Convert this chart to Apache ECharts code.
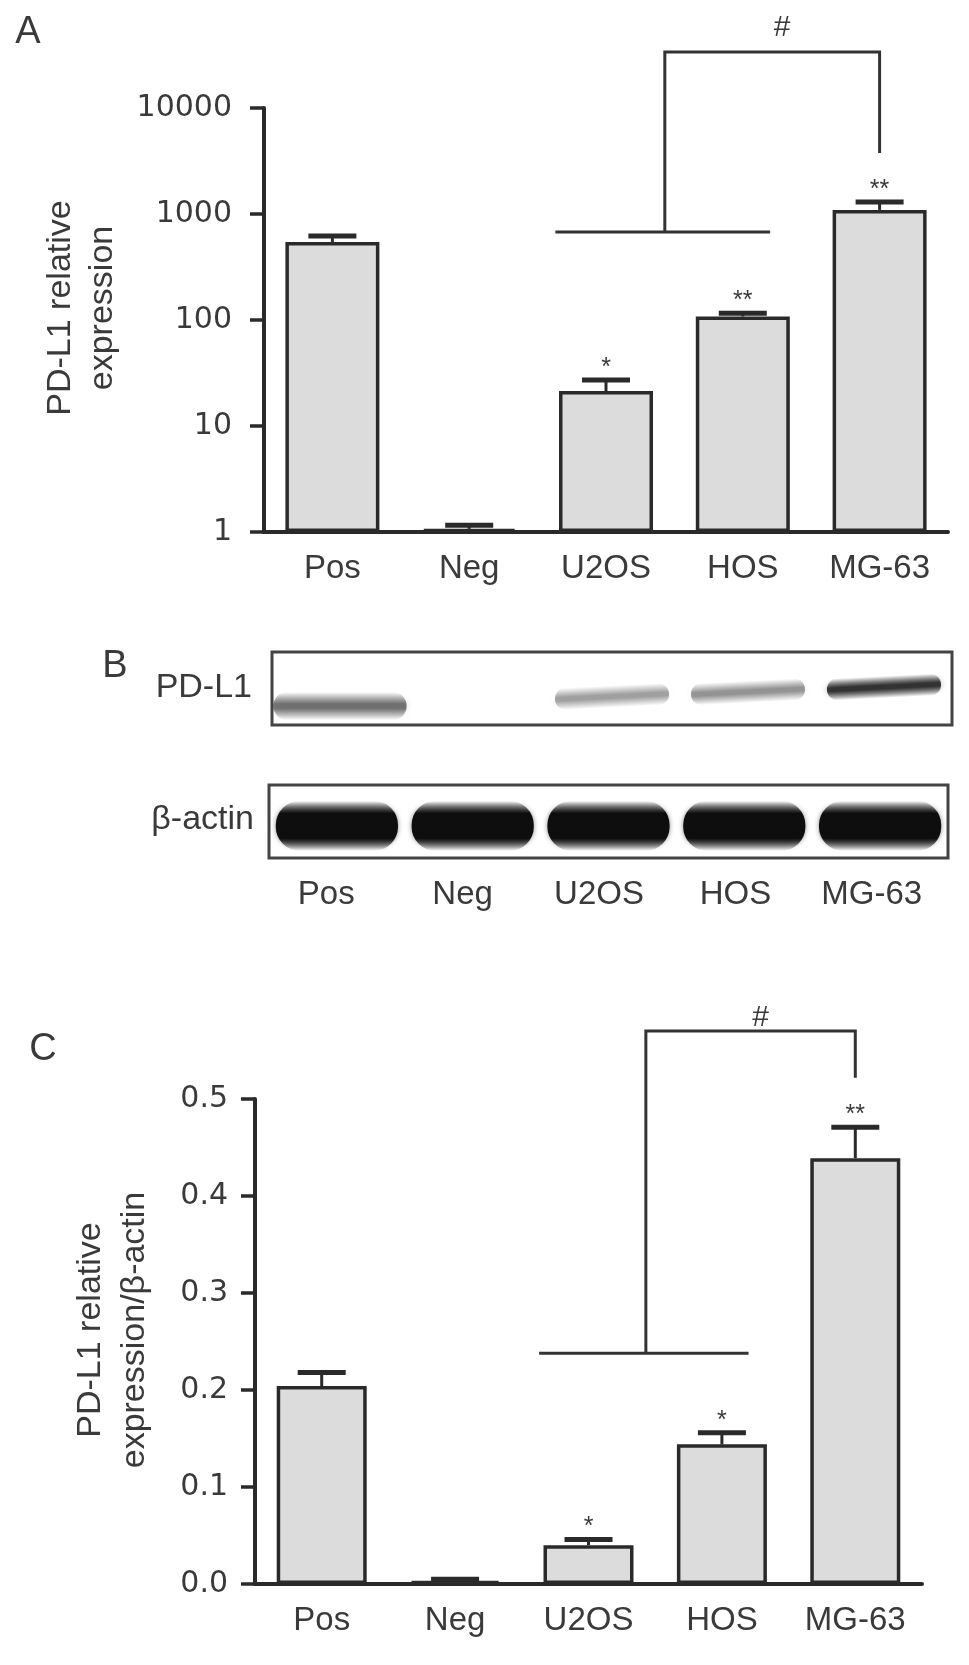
<!DOCTYPE html>
<html>
<head>
<meta charset="utf-8">
<style>
  html, body { margin: 0; padding: 0; background: #fff; }
  #chart { width: 969px; height: 1665px; }
</style>
<script src="https://cdn.jsdelivr.net/npm/echarts@6/dist/echarts.min.js"></script>
</head>
<body>
<div id="chart"></div>
<script>
const categories = ['Pos', 'Neg', 'U2OS', 'HOS', 'MG-63']

// A - PD-L1 relative expression (log scale)
const qpcrMean = [545, 1.07, 21.4, 108, 1093]
const qpcrSem = [75, 0.09, 5.8, 8, 204]
const qpcrStars = ['', '', '*', '**', '**']
const qpcrTicks = [1, 10, 100, 1000, 10000]
const qpcrBracket = [676, 33700, 3760] // lower bar, top bar, end of right drop

// B - western blot band intensity (0..1)
const pdl1Band = [0.6, 0, 0.4, 0.45, 0.9]
const actinBand = [1, 1, 1, 1, 1]

// C - PD-L1 / beta-actin
const wbMean = [0.204, 0.003, 0.04, 0.144, 0.439]
const wbSem = [0.014, 0.002, 0.006, 0.012, 0.032]
const wbStars = ['', '', '*', '*', '**']
const wbTicks = [0, 0.1, 0.2, 0.3, 0.4, 0.5]
const wbBracket = [0.238, 0.57, 0.522]

// groups compared by the # bracket
const cmpGroup = [2, 3]
const cmpTarget = 4

const FONT = '"Liberation Sans", Arial, sans-serif'
const NUM_FONT = '"DejaVu Sans", sans-serif'
const INK = '#2a2a2a'
const TXT = '#3a3a3a'

const chart = echarts.init(document.getElementById('chart'))

function errorItem(stars) {
  return (params, api) => {
    const i = api.value(0)
    const p0 = api.coord([i, api.value(1)])
    const p1 = api.coord([i, api.value(2)])
    const half = 24
    const children = [
      { type: 'line', shape: { x1: p0[0], y1: p0[1], x2: p1[0], y2: p1[1] }, style: { stroke: INK, lineWidth: 3 } },
      { type: 'line', shape: { x1: p1[0] - half, y1: p1[1], x2: p1[0] + half, y2: p1[1] }, style: { stroke: INK, lineWidth: 5 } },
    ]
    const s = stars[params.dataIndex]
    if (s) {
      children.push({
        type: 'text',
        style: {
          text: s, x: p1[0], y: p1[1] - 12, fill: TXT, fontSize: 25, fontFamily: FONT,
          align: 'center', verticalAlign: 'middle', textAlign: 'center', textVerticalAlign: 'middle',
        },
      })
    }
    return { type: 'group', children }
  }
}

function bracketItem(levels, hashGap) {
  return (params, api) => {
    const c0 = api.coord([0, levels[0]])
    const bw = api.coord([1, levels[0]])[0] - c0[0]
    const px = f => c0[0] + f * bw
    const yLow = c0[1]
    const yTop = api.coord([0, levels[1]])[1]
    const yDrop = api.coord([0, levels[2]])[1]
    const xs = px(cmpGroup[0] - 0.37)
    const xe = px(cmpGroup[1] + 0.2)
    const xm = px((cmpGroup[0] + cmpGroup[1]) / 2 - 0.07)
    const xr = px(cmpTarget)
    const ls = { stroke: '#333', lineWidth: 3, fill: null }
    return {
      type: 'group',
      children: [
        { type: 'line', shape: { x1: xs, y1: yLow, x2: xe, y2: yLow }, style: ls },
        { type: 'polyline', shape: { points: [[xm, yLow], [xm, yTop], [xr, yTop], [xr, yDrop]] }, style: ls },
        {
          type: 'text',
          style: {
            text: '#', x: (xm + xr) / 2 + 10, y: yTop - hashGap, fill: TXT, fontSize: 30, fontFamily: FONT,
            align: 'center', verticalAlign: 'middle', textAlign: 'center', textVerticalAlign: 'middle',
          },
        },
      ],
    }
  }
}

function vGrad(rgb, a, plateau) {
  return {
    type: 'linear', x: 0, y: 0, x2: 0, y2: 1,
    colorStops: [
      { offset: 0, color: `rgba(${rgb},0)` },
      { offset: 0.5 - plateau, color: `rgba(${rgb},${a})` },
      { offset: 0.5 + plateau, color: `rgba(${rgb},${a})` },
      { offset: 1, color: `rgba(${rgb},0)` },
    ],
  }
}

function bandItem(kind) {
  return (params, api) => {
    const i = api.value(0)
    const v = api.value(1)
    if (!v) return null
    const bw = api.size([1, 0])[0]
    if (kind === 'pdl1') {
      const c = api.coord([i, 0.26 + 0.065 * i])
      const w = bw * (i === 0 ? 0.98 : 0.84)
      const h = i === 0 ? 28 : 22
      return {
        type: 'rect',
        originX: c[0], originY: c[1], rotation: i === 0 ? 0 : 0.05,
        shape: { x: c[0] - w / 2, y: c[1] - h / 2, width: w, height: h, r: h / 2 },
        style: { fill: vGrad('35,35,35', v, 0.08), shadowBlur: 6, shadowColor: `rgba(60,60,60,${v * 0.4})` },
      }
    }
    const c = api.coord([i, 0.44])
    const w = bw * 0.9
    const h = 50
    return {
      type: 'rect',
      shape: { x: c[0] - w / 2, y: c[1] - h / 2, width: w, height: h, r: 24 },
      style: { fill: vGrad('14,14,14', v, 0.25), shadowBlur: 5, shadowColor: 'rgba(30,30,30,0.5)' },
    }
  }
}

const lineStyle = { color: INK, width: 4 }
const tickStyle = { color: INK, width: 3.5 }
const hiddenAxis = { show: false }
const catLabel = { fontSize: 33, color: TXT, margin: 20, fontFamily: FONT }

const option = {
  backgroundColor: '#fff',
  animation: false,
  grid: [
    { left: 264, right: 21, top: 108, bottom: 1665 - 532 },
    { left: 272, right: 17, top: 652, bottom: 1665 - 725, show: true, borderColor: '#444', borderWidth: 3, backgroundColor: '#fff' },
    { left: 269, right: 21, top: 785, bottom: 1665 - 858, show: true, borderColor: '#444', borderWidth: 3, backgroundColor: '#fff' },
    { left: 258, right: 29, top: 840, bottom: 1665 - 858 },
    { left: 255, right: 47, top: 1099, bottom: 1665 - 1584 },
  ],
  xAxis: [
    {
      gridIndex: 0, type: 'category', data: categories,
      axisLine: { lineStyle },
      axisTick: { alignWithLabel: true, length: 14, lineStyle: tickStyle },
      axisLabel: catLabel,
    },
    { gridIndex: 1, type: 'category', data: categories, ...hiddenAxis },
    { gridIndex: 2, type: 'category', data: categories, ...hiddenAxis },
    {
      gridIndex: 3, type: 'category', data: categories,
      axisLine: { show: false }, axisTick: { show: false },
      axisLabel: catLabel,
    },
    {
      gridIndex: 4, type: 'category', data: categories,
      axisLine: { lineStyle },
      axisTick: { alignWithLabel: true, length: 14, lineStyle: tickStyle },
      axisLabel: catLabel,
    },
  ],
  yAxis: [
    {
      gridIndex: 0, type: 'log', logBase: 10, min: 1, max: 10000,
      axisLine: { show: true, lineStyle },
      axisTick: { show: true, length: 14, lineStyle: tickStyle, customValues: qpcrTicks },
      axisLabel: { fontSize: 30, color: TXT, margin: 32, fontFamily: NUM_FONT, customValues: qpcrTicks, formatter: v => String(Math.round(v)) },
      splitLine: { show: false },
    },
    { gridIndex: 1, type: 'value', min: 0, max: 1, ...hiddenAxis },
    { gridIndex: 2, type: 'value', min: 0, max: 1, ...hiddenAxis },
    { gridIndex: 3, type: 'value', min: 0, max: 1, ...hiddenAxis },
    {
      gridIndex: 4, type: 'value', min: 0, max: 0.5, interval: 0.1,
      axisLine: { show: true, lineStyle },
      axisTick: { show: true, length: 14, lineStyle: tickStyle },
      axisLabel: { fontSize: 30, color: TXT, margin: 27, fontFamily: NUM_FONT, customValues: wbTicks, formatter: v => v.toFixed(1) },
      splitLine: { show: false },
    },
  ],
  series: [
    {
      type: 'bar', xAxisIndex: 0, yAxisIndex: 0, data: qpcrMean, barWidth: 94,
      itemStyle: { color: '#dcdcdc', borderColor: INK, borderWidth: 3.5 },
    },
    {
      type: 'custom', xAxisIndex: 0, yAxisIndex: 0, z: 3,
      data: qpcrMean.map((m, i) => [i, m, m + qpcrSem[i]]),
      encode: { x: 0, y: [1, 2] },
      renderItem: errorItem(qpcrStars),
    },
    {
      type: 'custom', xAxisIndex: 0, yAxisIndex: 0, z: 3, clip: false,
      data: [[0, qpcrBracket[0]]],
      renderItem: bracketItem(qpcrBracket, 24),
    },
    {
      type: 'custom', xAxisIndex: 1, yAxisIndex: 1,
      data: pdl1Band.map((v, i) => [i, v]),
      renderItem: bandItem('pdl1'),
    },
    {
      type: 'custom', xAxisIndex: 2, yAxisIndex: 2,
      data: actinBand.map((v, i) => [i, v]),
      renderItem: bandItem('actin'),
    },
    {
      type: 'bar', xAxisIndex: 4, yAxisIndex: 4, data: wbMean, barWidth: 90,
      itemStyle: { color: '#dcdcdc', borderColor: INK, borderWidth: 3.5 },
    },
    {
      type: 'custom', xAxisIndex: 4, yAxisIndex: 4, z: 3,
      data: wbMean.map((m, i) => [i, m, m + wbSem[i]]),
      encode: { x: 0, y: [1, 2] },
      renderItem: errorItem(wbStars),
    },
    {
      type: 'custom', xAxisIndex: 4, yAxisIndex: 4, z: 3, clip: false,
      data: [[0, wbBracket[0]]],
      renderItem: bracketItem(wbBracket, 13),
    },
  ],
  graphic: [
    { type: 'text', x: 28, y: 33, style: { text: 'A', fontSize: 38, fontFamily: FONT, fill: TXT, textAlign: 'center', textVerticalAlign: 'middle' } },
    { type: 'text', x: 115, y: 667, style: { text: 'B', fontSize: 38, fontFamily: FONT, fill: TXT, textAlign: 'center', textVerticalAlign: 'middle' } },
    { type: 'text', x: 43, y: 1050, style: { text: 'C', fontSize: 38, fontFamily: FONT, fill: TXT, textAlign: 'center', textVerticalAlign: 'middle' } },
    {
      type: 'text', x: 82, y: 308, rotation: Math.PI / 2,
      style: { text: 'PD-L1 relative\nexpression', fontSize: 34, lineHeight: 42, fontFamily: FONT, fill: TXT, textAlign: 'center', textVerticalAlign: 'middle' },
    },
    {
      type: 'text', x: 113, y: 1330, rotation: Math.PI / 2,
      style: { text: 'PD-L1 relative\nexpression/\u03b2-actin', fontSize: 34, lineHeight: 44, fontFamily: FONT, fill: TXT, textAlign: 'center', textVerticalAlign: 'middle' },
    },
    { type: 'text', x: 252, y: 688, style: { text: 'PD-L1', fontSize: 34, fontFamily: FONT, fill: TXT, textAlign: 'right', textVerticalAlign: 'middle' } },
    { type: 'text', x: 254, y: 820, style: { text: '\u03b2-actin', fontSize: 34, fontFamily: FONT, fill: TXT, textAlign: 'right', textVerticalAlign: 'middle' } },
  ],
}

chart.setOption(option)
</script>
</body>
</html>
